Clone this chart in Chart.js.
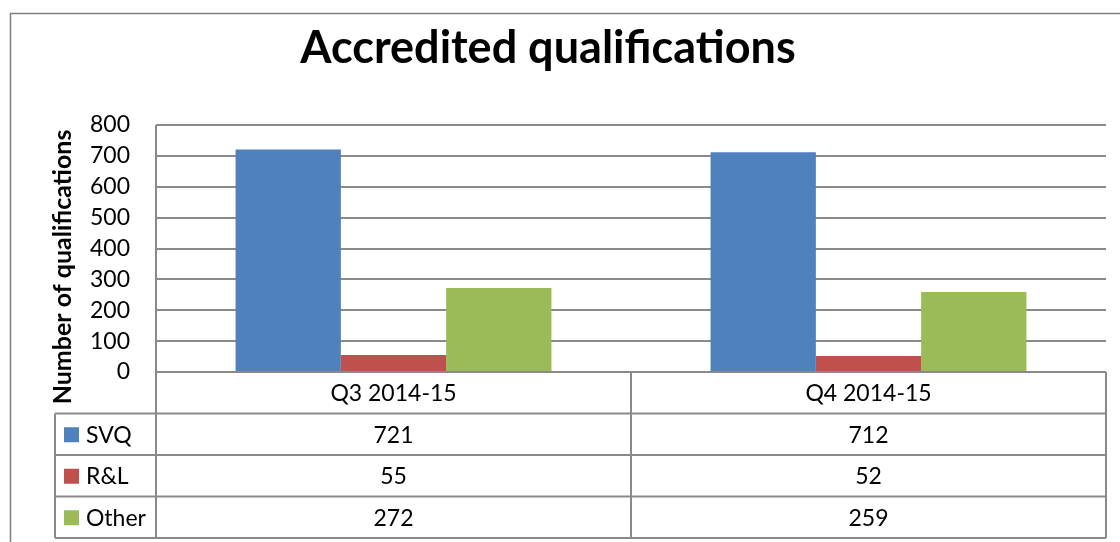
<!DOCTYPE html>
<html>
<head>
<meta charset="utf-8">
<script src="https://cdn.jsdelivr.net/npm/chart.js@4.4.0/dist/chart.umd.min.js"></script>
<style>
  html, body { margin: 0; padding: 0; background: #fff; }
  #wrap { width: 1120px; height: 542px; }
</style>
</head>
<body>
<div id="wrap"><canvas id="qualChart" width="1120" height="542"></canvas></div>
<script>
var quarters = ['Q3 2014-15', 'Q4 2014-15'];
var seriesNames = ['SVQ', 'R&L', 'Other'];
var svqValues = [721, 712];
var rlValues = [55, 52];
var otherValues = [272, 259];
var seriesColours = ['#4F81BD', '#C0504D', '#9BBB59'];

var fontFamily = 'Lato, "Open Sans", sans-serif';
var lineColour = '#8a8a8a';

// draws the frame, title, axis title and the Excel-style data table
var tablePlugin = {
    id: 'dataTable',
    beforeDraw: function (chart) {
        var ctx = chart.ctx;
        ctx.save();
        ctx.fillStyle = '#fff';
        ctx.fillRect(0, 0, chart.width, chart.height);
        ctx.strokeStyle = '#7f7f7f';
        ctx.lineWidth = 1.5;
        ctx.strokeRect(10.5, 13.5, 1300, 700);
        ctx.restore();
    },
    afterDraw: function (chart) {
        var ctx = chart.ctx;
        var area = chart.chartArea;
        var x = chart.scales.x;
        var rowH = 41.5;
        var legendLeft = 55;
        var tableBottom = area.bottom + 4 * rowH;
        var half = (x.getPixelForValue(1) - x.getPixelForValue(0)) / 2;

        ctx.save();
        ctx.fillStyle = '#000';
        ctx.font = 'bold 45px ' + fontFamily;
        ctx.textAlign = 'center';
        ctx.textBaseline = 'alphabetic';
        ctx.fillText('Accredited qualifications', 548, 63);

        ctx.save();
        ctx.translate(63, 267);
        ctx.rotate(-Math.PI / 2);
        ctx.font = 'bold 25px ' + fontFamily;
        ctx.textBaseline = 'middle';
        ctx.fillText('Number of qualifications', 0, 0);
        ctx.restore();

        ctx.strokeStyle = lineColour;
        ctx.lineWidth = 2;
        ctx.beginPath();
        // horizontal rules
        ctx.moveTo(area.left, area.bottom); ctx.lineTo(area.right, area.bottom);
        for (var r = 1; r <= 4; r++) {
            var yy = area.bottom + r * rowH;
            ctx.moveTo(legendLeft, yy); ctx.lineTo(area.right, yy);
        }
        // vertical rules
        ctx.moveTo(legendLeft, area.bottom + rowH); ctx.lineTo(legendLeft, tableBottom);
        ctx.moveTo(area.left, area.top); ctx.lineTo(area.left, tableBottom);
        for (var c = 0; c < quarters.length; c++) {
            var edge = x.getPixelForValue(c) + half;
            ctx.moveTo(edge, area.bottom); ctx.lineTo(edge, tableBottom);
        }
        ctx.stroke();

        ctx.font = '23px ' + fontFamily;
        ctx.textBaseline = 'middle';
        ctx.textAlign = 'center';
        quarters.forEach(function (q, i) {
            ctx.fillText(q, x.getPixelForValue(i), area.bottom + rowH / 2 + 1);
        });
        chart.data.datasets.forEach(function (ds, s) {
            var cy = area.bottom + (s + 1) * rowH + rowH / 2 + 1;
            ctx.fillStyle = ds.backgroundColor;
            ctx.fillRect(64, cy - 8, 15, 15);
            ctx.fillStyle = '#000';
            ctx.textAlign = 'left';
            ctx.fillText(ds.label, 86, cy);
            ctx.textAlign = 'center';
            ds.data.forEach(function (v, i) {
                ctx.fillText(String(v), x.getPixelForValue(i), cy);
            });
        });
        ctx.restore();
    }
};

new Chart(document.getElementById('qualChart').getContext('2d'), {
    type: 'bar',
    data: {
        labels: quarters,
        datasets: [
            { label: seriesNames[0], data: svqValues, backgroundColor: seriesColours[0] },
            { label: seriesNames[1], data: rlValues, backgroundColor: seriesColours[1] },
            { label: seriesNames[2], data: otherValues, backgroundColor: seriesColours[2] }
        ]
    },
    options: {
        responsive: false,
        animation: false,
        events: [],
        layout: { padding: { left: 0, top: 125, right: 14, bottom: 170 } },
        datasets: { bar: { categoryPercentage: 0.665, barPercentage: 1, borderWidth: 0 } },
        plugins: { legend: { display: false }, title: { display: false }, tooltip: { enabled: false } },
        scales: {
            x: { display: false },
            y: {
                min: 0,
                max: 800,
                afterFit: function (scale) { scale.width = 156; },
                ticks: { stepSize: 100, color: '#000', padding: 26, font: { family: fontFamily, size: 23 } },
                grid: { color: lineColour, lineWidth: 2, drawTicks: false },
                border: { display: false }
            }
        }
    },
    plugins: [tablePlugin]
});
</script>
</body>
</html>
